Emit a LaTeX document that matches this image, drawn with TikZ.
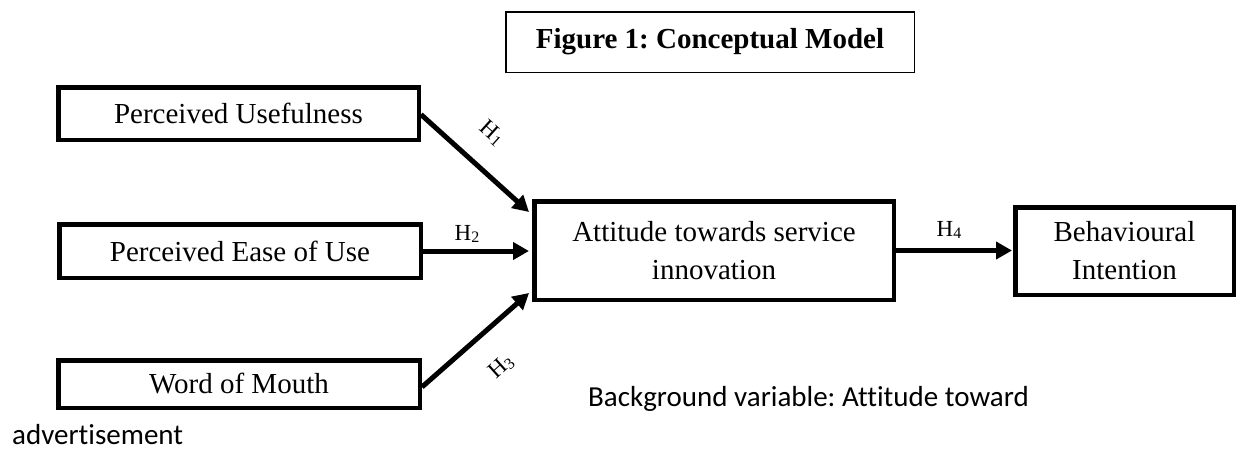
\documentclass[tikz,border=0pt]{standalone}
\usepackage{fontspec}
\setmainfont{Liberation Serif}
\newfontfamily\calfont[Ligatures=NoCommon]{Carlito}
\usetikzlibrary{arrows.meta,calc}
\newcommand{\hsub}[1]{H\raisebox{-2.5pt}{\fontsize{16}{16}\selectfont #1}}
\begin{document}
\frenchspacing
\begin{tikzpicture}[x=1pt,y=-1pt,
  box/.style={draw=black,line width=4.5pt,rectangle,inner sep=0pt,align=center,
    font=\fontsize{29}{38}\selectfont},
  titlebox/.style={draw=black,line width=1.5pt,rectangle,inner sep=0pt,
    font=\fontsize{29}{35}\selectfont\bfseries},
  arr/.style={line width=5pt,-{Triangle[length=16pt,width=17pt]}},
  hlab/.style={inner sep=0pt,font=\fontsize{23}{24}\selectfont},
  note/.style={inner sep=0pt,anchor=base west,font=\calfont\fontsize{29}{34}\selectfont}
]
\useasboundingbox (0,0) rectangle (1237,450);

\node[titlebox,minimum width=408.5pt,minimum height=60.5pt] (title) at (710,42) {Figure 1: Conceptual Model};

\node[box,minimum width=360.5pt,minimum height=52.5pt] (pu) at (238.5,113.5) {Perceived Usefulness};
\node[box,minimum width=361.5pt,minimum height=53.5pt] (peou) at (240,251) {Perceived Ease of Use};
\node[box,minimum width=361.5pt,minimum height=47.5pt] (wom) at (239,384) {Word of Mouth};
\node[box,minimum width=359.5pt,minimum height=98.5pt] (att) at (714,250.5) {Attitude towards service\\innovation};
\node[box,minimum width=218.5pt,minimum height=87.5pt] (bi) at (1124.5,251) {Behavioural\\Intention};

\draw[arr] ([yshift=-1pt]pu.east) -- ([xshift=-3pt,yshift=38.5pt]att.west);
\draw[arr] (peou.east) -- ([xshift=-3pt]att.west |- peou.east);
\draw[arr] ([yshift=-3pt]wom.east) -- ([xshift=-3pt,yshift=-42.5pt]att.west);
\draw[arr] (att.east) -- ([xshift=-1pt]att.east -| bi.west);

\node[hlab,rotate=-42] (h1) at (492,133) {\hsub{1}};
\node[hlab] (h2) at (467,234) {\hsub{2}};
\node[hlab,rotate=42] (h3) at (501,367) {\hsub{3}};
\node[hlab] (h4) at (949,230) {\hsub{4}};

\node[note] (bg) at (588,406) {Background variable: Attitude toward};
\node[note] (adv) at (12,444) {advertisement};
\end{tikzpicture}
\end{document}
